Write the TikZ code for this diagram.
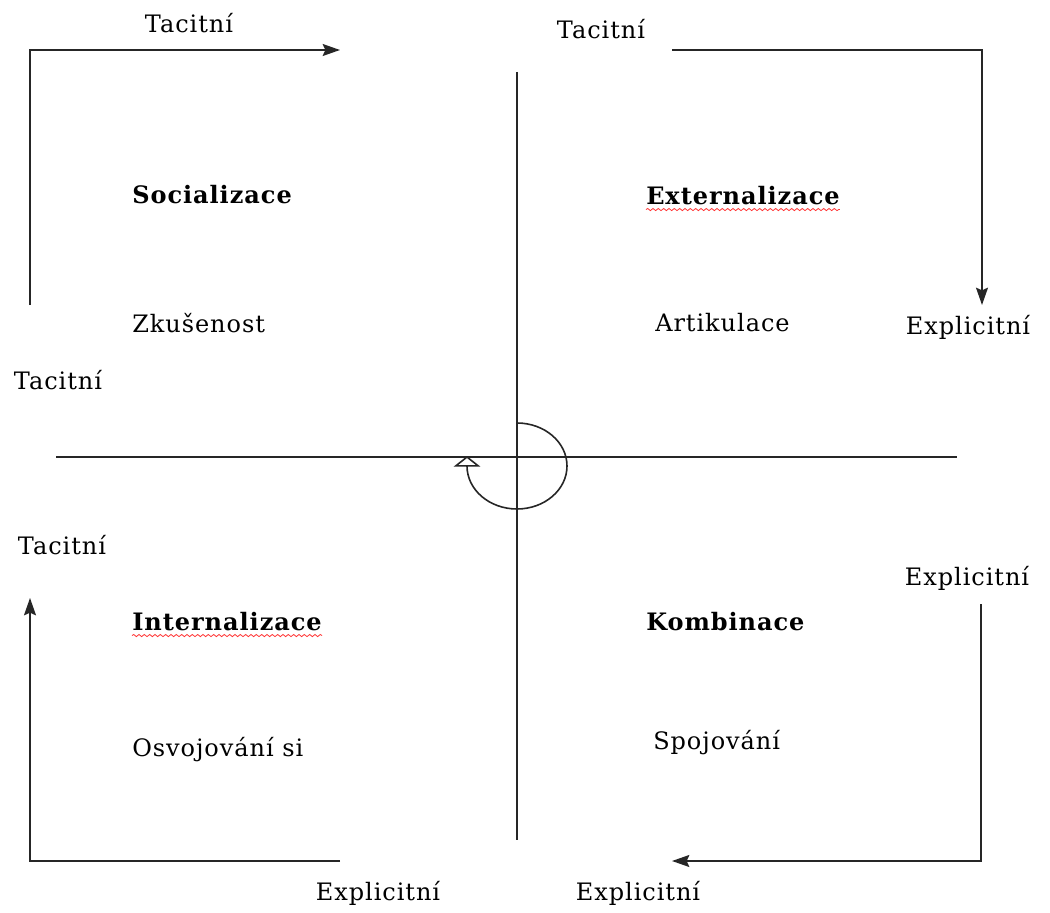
\documentclass[tikz,border=0pt]{standalone}
\usepackage{fontspec}
\setmainfont[LetterSpace=4]{DejaVu Serif}
\usetikzlibrary{arrows.meta, decorations.pathmorphing}

\begin{document}
\begin{tikzpicture}[
    x=0.75pt, y=-0.75pt,
    font=\fontsize{18}{21}\selectfont,
    axis/.style={line width=1.2pt, draw=black!85},
    flow/.style={-{Stealth[length=13pt, width=9pt, inset=2pt]}, line width=1.2pt, draw=black!85},
    sidetxt/.style={inner sep=0pt},
    mode/.style={inner sep=0pt, anchor=west, font=\fontsize{18}{21}\selectfont\bfseries},
    desc/.style={inner sep=0pt, anchor=west},
    wavy/.style={red!80, line width=0.6pt, decorate, decoration={snake, amplitude=0.8pt, segment length=4pt}}
]
\useasboundingbox (0,0) rectangle (1050,913);

% ========================================================
% AXES AND CYCLE
% ========================================================

\coordinate (ntop) at (517,72);
\coordinate (nbot) at (517,840);
\coordinate (wleft) at (56,457);
\coordinate (eright) at (957,457);
\draw[axis] (ntop) -- (nbot);
\draw[axis] (wleft) -- (eright);

\coordinate (cyc) at (517,423);
\draw[axis, -{Triangle[open, length=8pt, width=20pt]}] (cyc) arc[start angle=-90, end angle=180, x radius=50, y radius=43] -- ++(0,-10);

% ========================================================
% QUADRANTS
% ========================================================

\node[mode] (soc) at (132,195) {Socializace};
\node[desc] (zku) at (132,323) {Zkušenost};

\node[mode] (ext) at (646,196) {Externalizace};
\node[desc] (art) at (655,323) {Artikulace};

\node[mode] (int) at (132,622) {Internalizace};
\node[desc] (osv) at (132,750) {Osvojování si};

\node[mode] (komb) at (646,622) {Kombinace};
\node[desc] (spo) at (653,743) {Spojování};

% spell-check underlines
\draw[wavy] ([yshift=-3pt]ext.south west) -- ([yshift=-3pt]ext.south east);
\draw[wavy] ([yshift=-3pt]int.south west) -- ([yshift=-3pt]int.south east);

% ========================================================
% CONVERSION ARROWS
% ========================================================

\node[sidetxt] (tacA) at (189,23) {Tacitní};
\node[sidetxt] (tacB) at (601,29) {Tacitní};
\node[sidetxt] (expA) at (968,327) {Explicitní};
\node[sidetxt] (tacC) at (58,380) {Tacitní};
\node[sidetxt] (tacD) at (62,545) {Tacitní};
\node[sidetxt] (expB) at (967,578) {Explicitní};
\node[sidetxt] (expC) at (378,893) {Explicitní};
\node[sidetxt] (expD) at (638,893) {Explicitní};

\coordinate (tlfrom) at (30,305);
\coordinate (tlto) at (340,50);
\draw[flow] (tlfrom) |- (tlto);

\coordinate (trfrom) at (672,50);
\coordinate (trto) at (982,305);
\draw[flow] (trfrom) -| (trto);

\coordinate (brfrom) at (981,604);
\coordinate (brto) at (672,861);
\draw[flow] (brfrom) |- (brto);

\coordinate (blfrom) at (340,861);
\coordinate (blto) at (30,598);
\draw[flow] (blfrom) -| (blto);

\end{tikzpicture}
\end{document}
